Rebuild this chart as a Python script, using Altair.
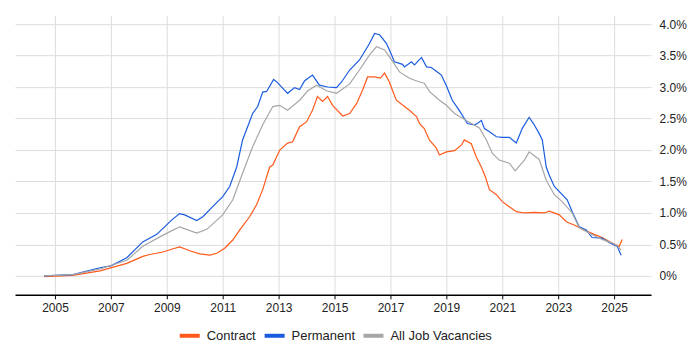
import altair as alt
import pandas as pd

perm_years = [2004.61, 2005.64, 2006.61, 2007.0, 2007.57, 2008.14, 2008.64, 2009.18, 2009.46, 2009.64,
              2010.07, 2010.29, 2010.64, 2011.0, 2011.25, 2011.5, 2011.71, 2012.07, 2012.25, 2012.43,
              2012.57, 2012.82, 2012.96, 2013.32, 2013.57, 2013.75, 2013.93, 2014.21, 2014.46, 2014.75,
              2015.07, 2015.25, 2015.54, 2015.89, 2016.07, 2016.25, 2016.43, 2016.61, 2016.86, 2017.04,
              2017.14, 2017.43, 2017.5, 2017.75, 2017.86, 2018.11, 2018.29, 2018.46, 2018.64, 2018.82,
              2019.0, 2019.21, 2019.46, 2019.75, 2020.0, 2020.11, 2020.25, 2020.36, 2020.54, 2020.79,
              2021.0, 2021.25, 2021.5, 2021.71, 2021.96, 2022.14, 2022.32, 2022.43, 2022.57, 2022.68,
              2022.86, 2023.04, 2023.32, 2023.5, 2023.75, 2024.0, 2024.21, 2024.57, 2024.82, 2025.11,
              2025.25]
perm_vals = [0.00, 0.02, 0.13, 0.16, 0.29, 0.54, 0.66, 0.89, 0.99, 0.97,
             0.88, 0.94, 1.10, 1.26, 1.42, 1.73, 2.16, 2.58, 2.69, 2.92,
             2.93, 3.12, 3.07, 2.90, 2.99, 2.96, 3.10, 3.19, 3.03, 3.00,
             2.99, 3.08, 3.27, 3.43, 3.56, 3.69, 3.85, 3.83, 3.69, 3.51,
             3.40, 3.36, 3.32, 3.40, 3.35, 3.47, 3.32, 3.31, 3.25, 3.19,
             3.02, 2.79, 2.63, 2.42, 2.40, 2.42, 2.47, 2.34, 2.29, 2.21,
             2.20, 2.20, 2.11, 2.34, 2.52, 2.40, 2.26, 2.16, 1.73, 1.60,
             1.42, 1.34, 1.21, 1.02, 0.78, 0.73, 0.61, 0.60, 0.53, 0.47,
             0.33]

all_years = [2004.61, 2005.64, 2006.61, 2007.57, 2008.14, 2008.75, 2009.18, 2009.46, 2010.07, 2010.43,
             2011.0, 2011.36, 2011.71, 2012.07, 2012.43, 2012.79, 2013.04, 2013.32, 2013.75, 2014.04,
             2014.36, 2014.71, 2015.07, 2015.54, 2015.89, 2016.25, 2016.5, 2016.79, 2017.04, 2017.32,
             2017.68, 2018.04, 2018.21, 2018.39, 2018.75, 2019.0, 2019.29, 2019.71, 2020.18, 2020.43,
             2020.64, 2020.89, 2021.25, 2021.46, 2021.79, 2021.96, 2022.32, 2022.57, 2022.86, 2023.14,
             2023.5, 2023.75, 2024.11, 2024.57, 2024.89, 2025.11, 2025.25]
all_vals = [0.00, 0.02, 0.11, 0.25, 0.47, 0.62, 0.72, 0.78, 0.68, 0.74,
            0.97, 1.21, 1.63, 2.05, 2.40, 2.69, 2.71, 2.63, 2.79, 2.94,
            3.03, 2.94, 2.90, 3.05, 3.27, 3.51, 3.64, 3.59, 3.43, 3.24,
            3.14, 3.08, 3.06, 2.93, 2.79, 2.71, 2.58, 2.47, 2.35, 2.16,
            1.95, 1.84, 1.79, 1.67, 1.84, 1.97, 1.85, 1.52, 1.29, 1.18,
            1.00, 0.77, 0.68, 0.58, 0.53, 0.48, 0.41]

con_years = [2004.61, 2005.64, 2006.61, 2007.57, 2008.14, 2008.39, 2008.86, 2009.29, 2009.46, 2009.82,
             2010.18, 2010.54, 2010.79, 2011.07, 2011.36, 2011.61, 2011.96, 2012.21, 2012.43, 2012.68,
             2012.79, 2013.04, 2013.32, 2013.5, 2013.75, 2014.0, 2014.21, 2014.39, 2014.57, 2014.75,
             2014.93, 2015.29, 2015.54, 2015.79, 2016.0, 2016.18, 2016.43, 2016.64, 2016.79, 2016.96,
             2017.07, 2017.21, 2017.5, 2017.68, 2017.93, 2018.04, 2018.21, 2018.39, 2018.64, 2018.75,
             2019.0, 2019.29, 2019.54, 2019.64, 2019.89, 2020.07, 2020.25, 2020.39, 2020.54, 2020.79,
             2021.0, 2021.25, 2021.5, 2021.79, 2022.14, 2022.5, 2022.68, 2023.04, 2023.29, 2023.57,
             2023.93, 2024.29, 2024.57, 2024.89, 2025.18, 2025.29]
con_vals = [-0.01, 0.01, 0.08, 0.20, 0.31, 0.34, 0.38, 0.44, 0.46, 0.40,
            0.35, 0.33, 0.36, 0.44, 0.57, 0.73, 0.94, 1.13, 1.37, 1.73,
            1.76, 2.00, 2.11, 2.13, 2.37, 2.45, 2.63, 2.85, 2.77, 2.85,
            2.71, 2.54, 2.58, 2.74, 2.95, 3.16, 3.16, 3.14, 3.22, 3.08,
            2.95, 2.79, 2.69, 2.63, 2.53, 2.42, 2.34, 2.16, 2.03, 1.92,
            1.97, 1.99, 2.08, 2.16, 2.10, 1.89, 1.73, 1.58, 1.37, 1.29,
            1.18, 1.10, 1.02, 1.00, 1.01, 1.00, 1.03, 0.97, 0.86, 0.81,
            0.73, 0.66, 0.61, 0.53, 0.47, 0.58]

series = ["Contract", "Permanent", "All Job Vacancies"]
colors = ["#FF5A1A", "#1A5CE0", "#A6A6A6"]
year_ticks = [2005, 2007, 2009, 2011, 2013, 2015, 2017, 2019, 2021, 2023, 2025]
pct_ticks = [0, 0.5, 1.0, 1.5, 2.0, 2.5, 3.0, 3.5, 4.0]

rows = []
for name, ys, vs in [("Contract", con_years, con_vals),
                     ("Permanent", perm_years, perm_vals),
                     ("All Job Vacancies", all_years, all_vals)]:
    for y, v in zip(ys, vs):
        rows.append({"year": y, "value": v, "series": name})
df = pd.DataFrame(rows)

font = "Liberation Sans"

chart = alt.Chart(df).mark_line(strokeWidth=1.2).encode(
    x=alt.X("year:Q",
            scale=alt.Scale(domain=[2003.57, 2026.32], nice=False, zero=False),
            axis=alt.Axis(values=year_ticks, format="d", title=None, grid=True,
                          gridColor="#dddddd", domainColor="#000000", domainWidth=1.5,
                          tickColor="#000000", tickSize=4, labelFontSize=12,
                          labelColor="#222222", labelFont=font, labelPadding=4)),
    y=alt.Y("value:Q",
            scale=alt.Scale(domain=[-0.3, 4.14], nice=False, zero=False),
            axis=alt.Axis(orient="right", values=pct_ticks, title=None, grid=True,
                          gridColor="#dddddd", domain=False, ticks=False,
                          labelExpr="datum.value == 0 ? '0%' : format(datum.value, '.1f') + '%'",
                          labelFontSize=12, labelColor="#222222", labelFont=font,
                          labelPadding=8)),
    color=alt.Color("series:N",
                    scale=alt.Scale(domain=series, range=colors),
                    sort=series,
                    legend=alt.Legend(orient="none", legendX=163, legendY=309,
                                      direction="horizontal", title=None,
                                      symbolType="stroke", symbolStrokeWidth=4,
                                      symbolSize=400, labelOffset=5,
                                      labelFontSize=13, labelFont=font, labelColor="#222222",
                                      columnPadding=0)),
    order=alt.Order("year:Q"),
).properties(
    width=637, height=280,
    padding={"left": 7, "top": 7, "right": 5, "bottom": 5},
).configure_view(stroke=None)

chart.save("out.html", embed_options={"renderer": "svg", "actions": False})
